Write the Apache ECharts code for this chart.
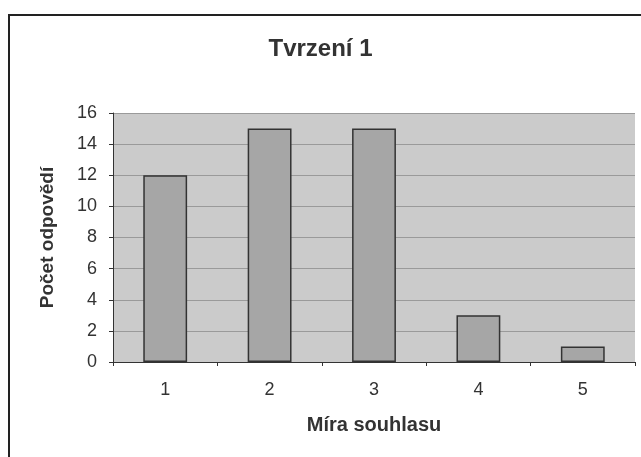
<!DOCTYPE html>
<html>
<head>
<meta charset="utf-8">
<script src="https://cdn.jsdelivr.net/npm/echarts@6/dist/echarts.min.js"></script>
<style>
  html, body { margin: 0; padding: 0; background: #fff; }
  #chart { width: 641px; height: 457px; }
</style>
</head>
<body>
<div id="chart"></div>
<script>
const categories = ["1", "2", "3", "4", "5"];
const counts = [12, 15, 15, 3, 1];

const font = "Liberation Sans, Arial";
const chart = echarts.init(document.getElementById("chart"));
chart.setOption({
  animation: false,
  backgroundColor: "#fff",
  graphic: [
    {
      type: "rect",
      shape: { x: 9, y: 15, width: 640, height: 450 },
      style: { fill: "none", stroke: "#222", lineWidth: 2 }
    }
  ],
  title: {
    text: "Tvrzení 1",
    left: "center",
    top: 32,
    textStyle: { fontFamily: font, fontSize: 24, fontWeight: "bold", color: "#333" }
  },
  grid: { left: 113, right: 6, top: 113, bottom: 95, backgroundColor: "#cbcbcb", show: true, borderWidth: 0 },
  xAxis: {
    type: "category",
    data: categories,
    name: "Míra souhlasu",
    nameLocation: "middle",
    nameGap: 53,
    nameTextStyle: { fontFamily: font, fontSize: 20, fontWeight: "bold", color: "#333" },
    axisLine: { lineStyle: { color: "#333", width: 1 } },
    axisTick: { show: true, length: 4, lineStyle: { color: "#333" } },
    axisLabel: { fontFamily: font, fontSize: 18, color: "#333", margin: 19 }
  },
  yAxis: {
    type: "value",
    min: 0,
    max: 16,
    interval: 2,
    name: "Počet odpovědí",
    nameLocation: "middle",
    nameGap: 56,
    nameTextStyle: { fontFamily: font, fontSize: 19, fontWeight: "bold", color: "#333" },
    axisLine: { show: true, lineStyle: { color: "#333" } },
    axisTick: { show: true, length: 4, lineStyle: { color: "#333" } },
    axisLabel: { fontFamily: font, fontSize: 18, color: "#333", margin: 16 },
    splitLine: { lineStyle: { color: "#9a9a9a", width: 1 } }
  },
  series: [
    {
      type: "bar",
      data: counts,
      barCategoryGap: "58%",
      itemStyle: { color: "#a6a6a6", borderColor: "#333", borderWidth: 1.5 }
    }
  ]
});
</script>
</body>
</html>
